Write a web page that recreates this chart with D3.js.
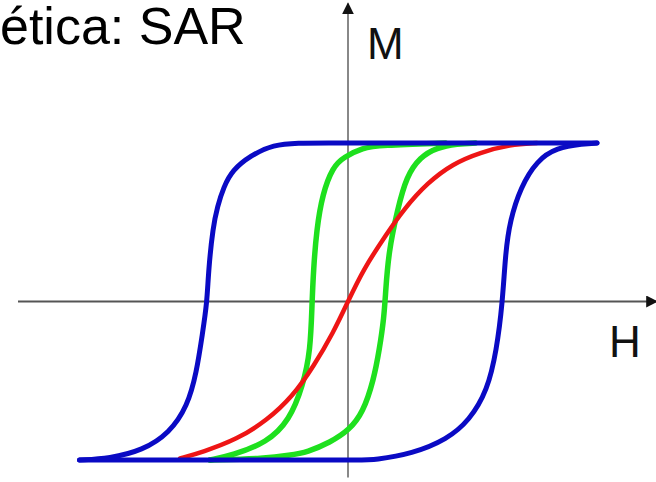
<!DOCTYPE html>
<html>
<head>
<meta charset="utf-8">
<script src="https://cdn.jsdelivr.net/npm/d3@7"></script>
<style>
  body { margin: 0; background: #fff; }
  svg { display: block; }
</style>
</head>
<body>
<div id="chart"></div>
<script>
// Curve points, as [H, M] (M normalised to saturation = 1).
const blueUpper = [
  [1.66, 1], [1.01, 1], [0.35, 1], [-0.20, 1], [-0.32, 1], [-0.50, 0.99], [-0.65, 0.92],
  [-0.77, 0.83], [-0.83, 0.72], [-0.87, 0.60], [-0.90, 0.47], [-0.93, 0.20],
  [-0.94, -0.01], [-0.97, -0.20], [-1.01, -0.45], [-1.07, -0.66], [-1.19, -0.83],
  [-1.37, -0.94], [-1.59, -0.99], [-1.79, -1]
];
const blueLower = [
  [-1.79, -1], [-0.99, -1], [-0.32, -1], [0.10, -1], [0.17, -1], [0.43, -0.96], [0.66, -0.87],
  [0.81, -0.75], [0.93, -0.56], [0.99, -0.31], [1.03, -0.01], [1.05, 0.31],
  [1.08, 0.51], [1.15, 0.72], [1.26, 0.89], [1.39, 0.97], [1.57, 0.995], [1.66, 1]
];
const greenUpper = [
  [0.65, 1], [0.21, 0.985], [0.10, 0.97], [-0.03, 0.91], [-0.10, 0.85], [-0.17, 0.68],
  [-0.21, 0.45], [-0.23, 0.20], [-0.24, -0.01], [-0.25, -0.31], [-0.30, -0.53],
  [-0.39, -0.75], [-0.54, -0.89], [-0.77, -0.97], [-0.92, -1]
];
const greenLower = [
  [-0.92, -1], [-0.55, -0.99], [-0.39, -0.97], [-0.27, -0.95], [-0.12, -0.89],
  [0.01, -0.81], [0.10, -0.70], [0.17, -0.50], [0.21, -0.30], [0.24, -0.10],
  [0.25, 0.05], [0.27, 0.31], [0.33, 0.58], [0.39, 0.79], [0.48, 0.91],
  [0.59, 0.97], [0.73, 0.995], [0.85, 1]
];
const redCurve = [
  [-1.12, -0.99], [-0.97, -0.95], [-0.74, -0.87], [-0.54, -0.75], [-0.37, -0.60],
  [-0.23, -0.41], [-0.10, -0.20], [0, 0], [0.10, 0.20], [0.26, 0.43], [0.37, 0.58],
  [0.53, 0.75], [0.70, 0.87], [0.88, 0.94], [1.08, 0.99], [1.26, 1]
];
const hExtent = [-2.2, 2.06];   // horizontal axis span
const mExtent = [-1.11, 1.88];  // vertical axis span
const titleText = 'ética: SAR';
const axisLabels = { h: 'H', m: 'M' };

const width = 656, height = 482;

const svg = d3.select('#chart')
  .append('svg')
  .attr('width', width)
  .attr('height', height);

// scales: H=0 at x 348, 150px per unit; M=±1 at saturation lines
const x = d3.scaleLinear().domain([0, 1]).range([348, 498]);
const y = d3.scaleLinear().domain([-1, 1]).range([460, 143]);

// arrow heads
const defs = svg.append('defs');
defs.append('marker')
  .attr('id', 'arrow')
  .attr('viewBox', '0 0 10 10')
  .attr('refX', 9).attr('refY', 5)
  .attr('markerWidth', 6).attr('markerHeight', 6)
  .attr('markerUnits', 'strokeWidth')
  .attr('orient', 'auto')
  .append('path')
    .attr('d', 'M0,0 L10,5 L0,10 Z')
    .attr('fill', '#111');

// axes
svg.append('line')
  .attr('x1', x(hExtent[0])).attr('x2', x(hExtent[1]))
  .attr('y1', y(0)).attr('y2', y(0))
  .attr('stroke', '#555').attr('stroke-width', 2)
  .attr('marker-end', 'url(#arrow)');

svg.append('line')
  .attr('x1', x(0)).attr('x2', x(0))
  .attr('y1', y(mExtent[0])).attr('y2', y(mExtent[1]))
  .attr('stroke', '#888').attr('stroke-width', 2)
  .attr('marker-end', 'url(#arrow)');

// curves
const line = d3.line()
  .x(d => x(d[0]))
  .y(d => y(d[1]))
  .curve(d3.curveBasis);

const curves = [
  { pts: greenUpper, colour: '#1ee01e', w: 5.5 },
  { pts: greenLower, colour: '#1ee01e', w: 5.5 },
  { pts: redCurve, colour: '#ee1515', w: 4.5 },
  { pts: blueUpper, colour: '#0a0ac4', w: 5 },
  { pts: blueLower, colour: '#0a0ac4', w: 5 }
];

svg.selectAll('path.curve')
  .data(curves)
  .join('path')
    .attr('class', 'curve')
    .attr('d', d => line(d.pts))
    .attr('fill', 'none')
    .attr('stroke', d => d.colour)
    .attr('stroke-width', d => d.w)
    .attr('stroke-linecap', 'round')
    .attr('stroke-linejoin', 'round');

// texts
const font = 'Liberation Sans, Arial, sans-serif';
svg.append('text')
  .attr('x', 0).attr('y', 44)
  .attr('font-family', font)
  .attr('font-size', 52)
  .attr('fill', '#000')
  .text(titleText);

svg.append('text')
  .attr('x', 367).attr('y', 59)
  .attr('font-family', font)
  .attr('font-size', 44)
  .attr('fill', '#111')
  .text(axisLabels.m);

svg.append('text')
  .attr('x', 609).attr('y', 357)
  .attr('font-family', font)
  .attr('font-size', 44)
  .attr('fill', '#111')
  .text(axisLabels.h);
</script>
</body>
</html>
